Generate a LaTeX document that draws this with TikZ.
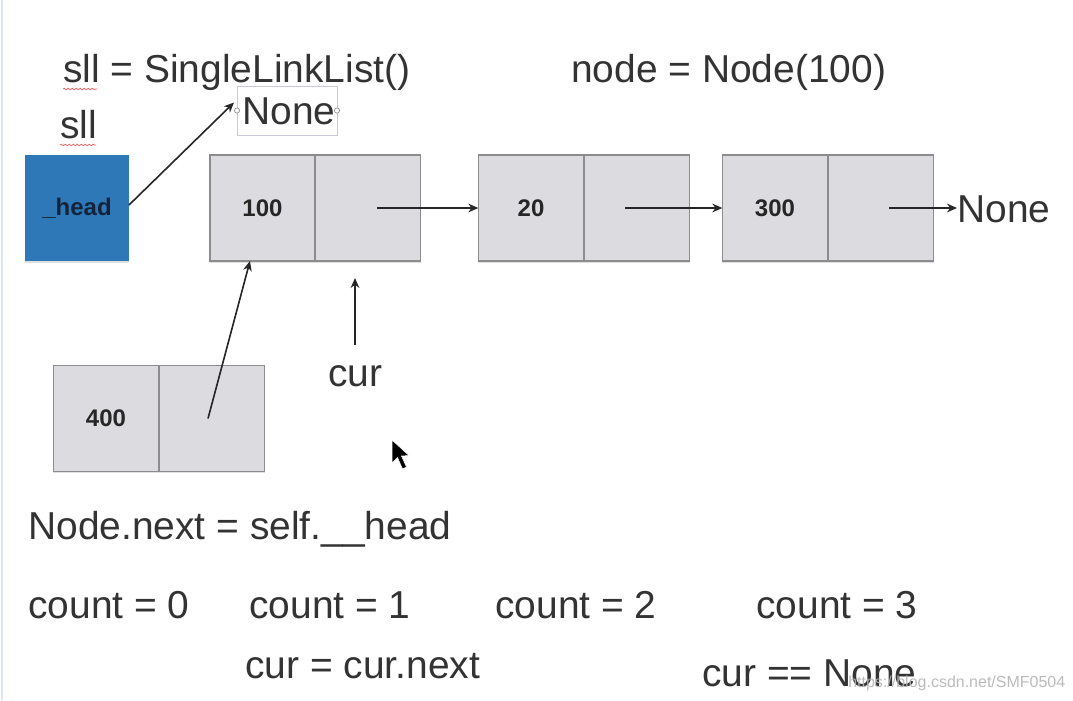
\documentclass[tikz,border=0pt]{standalone}
\usepackage{fontspec}
\setmainfont{Liberation Sans}
\usetikzlibrary{arrows.meta,calc,shadows,decorations.pathmorphing}
\definecolor{txt}{HTML}{333333}
\definecolor{cellfill}{HTML}{DCDCE0}
\definecolor{celldraw}{HTML}{8C8C8C}
\definecolor{headblue}{HTML}{2E78B7}
\definecolor{headtxt}{HTML}{13243A}
\definecolor{noneframe}{HTML}{C9C9DD}
\definecolor{wm}{HTML}{B4B4B4}
\begin{document}
\begin{tikzpicture}[x=0.75pt,y=-0.75pt,
  big/.style={font=\fontsize{29.2}{31}\selectfont, text=txt, inner sep=0pt, anchor=base west},
  cell/.style={draw=celldraw, fill=cellfill, line width=1.1pt, minimum width=79pt, minimum height=79.5pt,
    inner sep=0pt, outer sep=0pt, font=\fontsize{18}{20}\selectfont\bfseries, text=black!85,
    drop shadow={shadow xshift=0pt, shadow yshift=-1.2pt, opacity=0.25}},
  arr/.style={draw=black!85, line width=1.2pt, -{Stealth[length=7.5pt,width=6.5pt]}},
  squig/.style={draw=red!65, line width=0.5pt, decorate, decoration={snake, amplitude=0.6pt, segment length=3pt}}
]
\useasboundingbox (0,0) rectangle (1073,700);
\fill[white] (0,0) rectangle (1073,700);
\draw[draw={rgb,255:red,222;green,230;blue,243}, line width=2.2pt] (2,0) -- (2,700);

% top texts
\node[big] (t1) at (63,82) {sll = SingleLinkList()};
\node[big] (t2) at (571,82) {node = Node(100)};
\node[big] (t3) at (60,138) {sll};
\draw[squig] (63,89) -- (97,89);
\draw[squig] (60,145) -- (96,145);

% None box (selected text box)
\node[draw=noneframe, line width=0.6pt, minimum width=75pt, minimum height=36.75pt, inner sep=0pt, outer sep=0pt] (nonebox) at (287,110.5) {};
\node[big] (nonetxt) at (242,124) {None};
\draw[draw=black!45, fill=white, line width=0.5pt] (nonebox.west) circle (2.6);
\draw[draw=black!45, fill=white, line width=0.5pt] (nonebox.east) circle (2.6);

% head
\node[fill=headblue, minimum width=78pt, minimum height=79.5pt, inner sep=0pt, outer sep=0pt,
  font=\fontsize{18}{20}\selectfont\bfseries, text=headtxt,
  drop shadow={shadow xshift=0pt, shadow yshift=-1.2pt, opacity=0.25}] (head) at (77,208) {\_head};

% list cells
\node[cell] (n1a) at (262.5,208) {100};
\node[cell] (n1b) at (368,208) {};
\node[cell] (n2a) at (531,208) {20};
\node[cell] (n2b) at (637,208) {};
\node[cell] (n3a) at (775,208) {300};
\node[cell] (n3b) at (881,208) {};
\node[cell] (n4a) at (106,418.5) {400};
\node[cell] (n4b) at (212,418.5) {};

\node[big] (noneR) at (957,222) {None};

% arrows
\draw[arr] ($(head.east)+(0,-3)$) -- ($(nonebox.west)+(-3,-8)$);
\draw[arr] ($(n1b.center)+(9,0)$) -- (n2a.west);
\draw[arr] ($(n2b.center)+(-12,0)$) -- (n3a.west);
\draw[arr] ($(n3b.center)+(8,0)$) -- (noneR.west |- n3b.center);
\draw[arr] ($(n4b.center)+(-4,0)$) -- ($(n1a.south)+(-12.5,0)$);

% cur
\node[big] (cur) at (328,386) {cur};
\coordinate (curtail) at (355,345);
\coordinate (curtip) at (355,278);
\draw[arr] (curtail) -- (curtip);

% mouse cursor
\filldraw[black, draw=white, line width=0.4pt] (392,440) -- (392,463) -- (397.5,457.5) -- (402.5,469) -- (406.5,467) -- (401.5,456) -- (409,455.5) -- cycle;

% bottom texts
\node[big] (nn) at (28,539) {Node.next = self.\_\_head};
\node[big] (c0) at (28,618) {count = 0};
\node[big] (c1) at (249,618) {count = 1};
\node[big] (c2) at (495,618) {count = 2};
\node[big] (c3) at (756,618) {count = 3};
\node[big] (cn) at (245,678) {cur = cur.next};
\node[big] (ce) at (702,686) {cur == None};
\node[font=\fontsize{12}{14}\selectfont, text=wm, inner sep=0pt, anchor=base west, opacity=0.9] (wmk) at (848,687) {https://blog.csdn.net/SMF0504};
\end{tikzpicture}
\end{document}
